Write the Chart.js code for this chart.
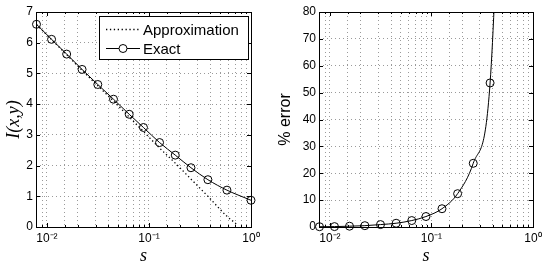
<!DOCTYPE html>
<html>
<head>
<meta charset="utf-8">
<script src="https://cdn.jsdelivr.net/npm/chart.js@4.4.1/dist/chart.umd.min.js"></script>
<style>
  html, body { margin: 0; padding: 0; background: #fff; }
  .wrap { position: absolute; top: 0; width: 273px; height: 267px; }
  .g1 { left: 0; }
  .g2 { left: 273px; }
</style>
</head>
<body>
<div class="wrap g1"><canvas id="c1" width="273" height="267"></canvas></div>
<div class="wrap g2"><canvas id="c2" width="273" height="267"></canvas></div>
<script>
// values
const sValues = [0.0079, 0.0111, 0.0156, 0.0221, 0.0315, 0.0449, 0.064, 0.0883, 0.127, 0.181, 0.258, 0.378, 0.581, 1.0];
const exactValues = [6.6, 6.11, 5.63, 5.13, 4.64, 4.16, 3.67, 3.24, 2.75, 2.34, 1.93, 1.54, 1.2, 0.87];

const approxS = [0.0079, 0.0111, 0.0156, 0.0221, 0.0315, 0.0449, 0.064, 0.0883, 0.127, 0.181, 0.258, 0.378, 0.581, 0.72];
const approxValues = [6.59, 6.1, 5.61, 5.1, 4.6, 4.1, 3.58, 3.11, 2.57, 2.08, 1.56, 1.0, 0.35, 0.1];

const errorS = [0.0079, 0.0111, 0.0156, 0.0221, 0.0315, 0.0449, 0.064, 0.0883, 0.127, 0.181, 0.258, 0.378, 0.581];
const errorValues = [0.1, 0.15, 0.3, 0.5, 0.9, 1.4, 2.4, 3.9, 6.8, 12.4, 23.7, 53.6, 243];

const xTickValues = [0.01, 0.1, 1];
const xTickLabels = ['10⁻²', '10⁻¹', '10⁰'];

Chart.defaults.font.family = '"Liberation Sans", Arial, sans-serif';
Chart.defaults.font.size = 12;
Chart.defaults.color = '#000';

const pts = (xs, ys) => xs.map((x, i) => ({ x: x, y: ys[i] }));

function xLabel(v) {
  let i = xTickValues.findIndex(t => Math.abs(Math.log10(v) - Math.log10(t)) < 1e-6);
  return i < 0 ? '' : xTickLabels[i];
}

function xAxis() {
  return {
    type: 'logarithmic', min: 0.0078125, max: 1,
    afterFit: s => { s.height = 40; },
    grid: { color: '#9a9a9a', lineWidth: 1, drawTicks: false },
    border: { display: false, dash: [1, 3] },
    ticks: { autoSkip: false, maxRotation: 0, padding: 4, callback: v => xLabel(v) },
    title: { display: true, text: 's', padding: 0,
      font: { family: '"Liberation Serif", serif', style: 'italic', size: 18 } }
  };
}

function yAxis(max, step, width, title, titleFont) {
  return {
    type: 'linear', min: 0, max: max,
    afterFit: s => { s.width = width; },
    grid: { color: '#9a9a9a', lineWidth: 1, drawTicks: false },
    border: { display: false, dash: [1, 3] },
    ticks: { stepSize: step, padding: 3 },
    title: { display: true, text: title, padding: { top: 3, bottom: 0 }, font: titleFont }
  };
}

const axesBox = {
  id: 'axesBox',
  afterDatasetsDraw(chart) {
    const { ctx, chartArea: a, scales } = chart;
    ctx.save();
    ctx.strokeStyle = '#000';
    ctx.lineWidth = 1;
    ctx.beginPath();
    scales.x.ticks.forEach(t => {
      let px = Math.round(scales.x.getPixelForValue(t.value)) + 0.5;
      let len = xLabel(t.value) ? 4 : 2;
      ctx.moveTo(px, a.bottom); ctx.lineTo(px, a.bottom - len);
      ctx.moveTo(px, a.top); ctx.lineTo(px, a.top + len);
    });
    scales.y.ticks.forEach(t => {
      let py = Math.round(scales.y.getPixelForValue(t.value)) + 0.5;
      ctx.moveTo(a.left, py); ctx.lineTo(a.left + 4, py);
      ctx.moveTo(a.right, py); ctx.lineTo(a.right - 4, py);
    });
    ctx.stroke();
    ctx.strokeRect(Math.round(a.left) + 0.5, Math.round(a.top) + 0.5,
      Math.round(a.right - a.left), Math.round(a.bottom - a.top));
    ctx.restore();
  }
};

const insideLegend = {
  id: 'insideLegend',
  afterDraw(chart) {
    if (!chart.options.plugins.insideLegend) return;
    const { ctx, chartArea } = chart;
    const w = 149, h = 43;
    const x = Math.round(chartArea.right - 3 - w), y = Math.round(chartArea.top + 4);
    ctx.save();
    ctx.fillStyle = '#fff';
    ctx.fillRect(x, y, w, h);
    ctx.strokeStyle = '#000';
    ctx.lineWidth = 1;
    ctx.strokeRect(x + 0.5, y + 0.5, w, h);
    ctx.font = '15px "Liberation Sans", Arial, sans-serif';
    ctx.textBaseline = 'middle';
    chart.data.datasets.forEach((ds, i) => {
      let ly = y + 13.5 + i * 19;
      ctx.strokeStyle = ds.borderColor;
      ctx.lineWidth = ds.borderWidth;
      ctx.setLineDash(ds.borderDash || []);
      ctx.beginPath(); ctx.moveTo(x + 7, ly); ctx.lineTo(x + 41, ly); ctx.stroke();
      ctx.setLineDash([]);
      if (ds.pointRadius) {
        ctx.beginPath();
        ctx.arc(x + 24, ly, ds.pointRadius, 0, Math.PI * 2);
        ctx.fillStyle = '#fff';
        ctx.fill();
        ctx.stroke();
      }
      ctx.fillStyle = '#000';
      ctx.fillText(ds.label, x + 44, ly + 1);
    });
    ctx.restore();
  }
};

new Chart(document.getElementById('c1'), {
  type: 'scatter',
  data: {
    datasets: [{
      label: 'Approximation',
      data: pts(approxS, approxValues),
      showLine: true, borderColor: '#000', borderWidth: 1.3, borderDash: [1.3, 2.6],
      pointRadius: 0, cubicInterpolationMode: 'monotone', clip: 6
    }, {
      label: 'Exact',
      data: pts(sValues, exactValues),
      showLine: true, borderColor: '#000', borderWidth: 1,
      pointRadius: 4, pointBorderWidth: 1, pointBorderColor: '#000', pointBackgroundColor: 'rgba(0,0,0,0)',
      cubicInterpolationMode: 'monotone', clip: 6
    }]
  },
  options: {
    responsive: false, animation: false,
    layout: { padding: { top: 12, right: 22, left: 0, bottom: 0 } },
    plugins: { legend: { display: false }, tooltip: { enabled: false }, insideLegend: true },
    scales: {
      x: xAxis(),
      y: yAxis(7, 1, 36, 'I(x,y)', { family: '"Liberation Serif", serif', style: 'italic', size: 18 })
    }
  },
  plugins: [axesBox, insideLegend]
});

new Chart(document.getElementById('c2'), {
  type: 'scatter',
  data: {
    datasets: [{
      label: '% error',
      data: pts(errorS, errorValues),
      showLine: true, borderColor: '#000', borderWidth: 1,
      pointRadius: 4, pointBorderWidth: 1, pointBorderColor: '#000', pointBackgroundColor: 'rgba(0,0,0,0)',
      cubicInterpolationMode: 'monotone', clip: { left: 6, right: 6, top: 0, bottom: 6 }
    }]
  },
  options: {
    responsive: false, animation: false,
    layout: { padding: { top: 12, right: 13, left: 0, bottom: 0 } },
    plugins: { legend: { display: false }, tooltip: { enabled: false }, insideLegend: false },
    scales: {
      x: xAxis(),
      y: yAxis(80, 10, 46, '% error', { size: 16 })
    }
  },
  plugins: [axesBox, insideLegend]
});
</script>
</body>
</html>
